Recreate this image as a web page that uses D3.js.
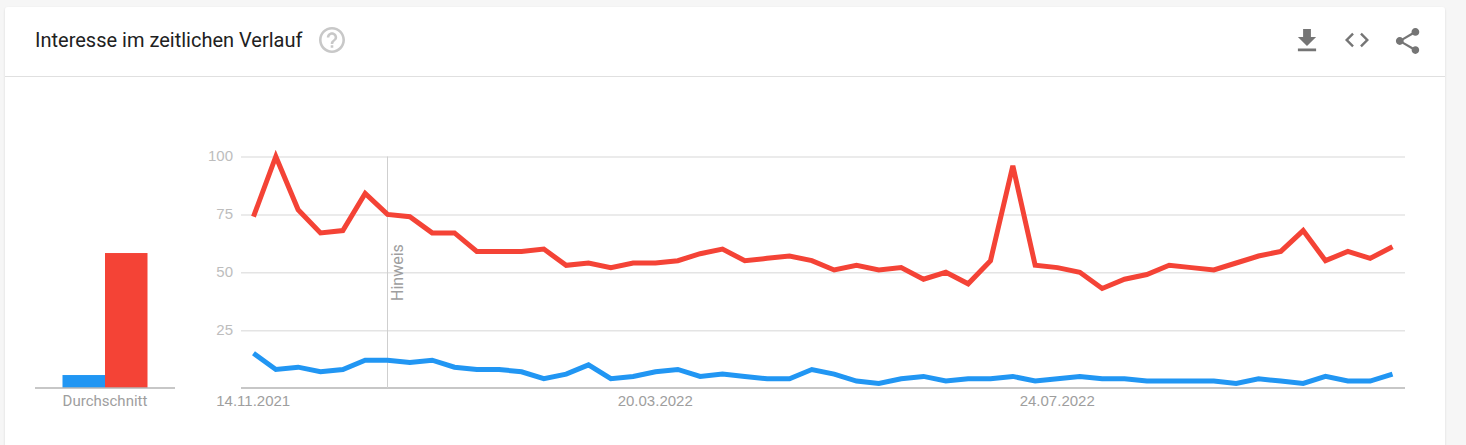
<!DOCTYPE html>
<html lang="de">
<head>
<meta charset="utf-8">
<title>Interesse im zeitlichen Verlauf</title>
<script src="https://cdn.jsdelivr.net/npm/d3@7"></script>
<style>
    html, body { margin: 0; padding: 0; background: #f6f6f6; overflow: hidden; }
    svg { display: block; font-family: Roboto, sans-serif; }
    .tick-label { font-size: 15px; fill: #bdbdbd; }
    .date-label { font-size: 15px; fill: #9e9e9e; }
    .grid-line { stroke: #e4e4e4; stroke-width: 1.5; }
    .base-line { stroke: #b4b4b4; stroke-width: 1.5; }
    .series { fill: none; stroke-width: 5; stroke-linejoin: miter; }
</style>
</head>
<body>
<svg id="chart" width="1466" height="445"></svg>
<script>
const title = 'Interesse im zeitlichen Verlauf';
const seriesColors = ['#2196f3', '#f44336'];
const averages = [5.6, 58.3];
const averageLabel = 'Durchschnitt';
const noteLabel = 'Hinweis';
const noteWeek = 6;

const yTicks = [25, 50, 75, 100];
const dateTickWeeks = [0, 18, 36];
const dateTickLabels = ['14.11.2021', '20.03.2022', '24.07.2022'];

const blueValues = [15, 8, 9, 7, 8, 12, 12, 11, 12, 9, 8, 8, 7, 4, 6, 10, 4, 5, 7, 8, 5, 6, 5, 4, 4, 8,
    6, 3, 2, 4, 5, 3, 4, 4, 5, 3, 4, 5, 4, 4, 3, 3, 3, 3, 2, 4, 3, 2, 5, 3, 3, 6];
const redValues = [74, 100, 77, 67, 68, 84, 75, 74, 67, 67, 59, 59, 59, 60, 53, 54, 52, 54, 54, 55, 58, 60, 55, 56, 57, 55,
    51, 53, 51, 52, 47, 50, 45, 55, 96, 53, 52, 50, 43, 47, 49, 53, 52, 51, 54, 57, 59, 68, 55, 59, 56, 61];

// material icon outlines, 24x24 box
const iconHelp = 'M11 18h2v-2h-2v2zm1-16C6.48 2 2 6.48 2 12s4.48 10 10 10 10-4.48 10-10S17.52 2 12 2zm0 18c-4.41 0-8-3.59-8-8s3.59-8 8-8 8 3.59 8 8-3.59 8-8 8zm0-14c-2.21 0-4 1.79-4 4h2c0-1.1.9-2 2-2s2 .9 2 2c0 2-3 1.75-3 5h2c0-2.25 3-2.5 3-5 0-2.21-1.79-4-4-4z';
const iconDownload = 'M19 9h-4V3H9v6H5l7 7 7-7zM5 18v2h14v-2H5z';
const iconCode = 'M9.4 16.6L4.8 12l4.6-4.6L8 6l-6 6 6 6 1.4-1.4zm5.2 0l4.6-4.6-4.6-4.6L16 6l6 6-6 6-1.4-1.4z';
const iconShare = 'M18 16.08c-.76 0-1.44.3-1.96.77L8.91 12.7c.05-.23.09-.46.09-.7s-.04-.47-.09-.7l7.05-4.11c.54.5 1.25.81 2.04.81 1.66 0 3-1.34 3-3s-1.34-3-3-3-3 1.34-3 3c0 .24.04.47.09.7L8.04 9.81C7.5 9.31 6.79 9 6 9c-1.66 0-3 1.34-3 3s1.34 3 3 3c.79 0 1.5-.31 2.04-.81l7.12 4.16c-.05.21-.08.43-.08.65 0 1.61 1.31 2.92 2.92 2.92 1.61 0 2.92-1.31 2.92-2.92s-1.31-2.92-2.92-2.92z';

const svg = d3.select('#chart');

// card
const defs = svg.append('defs');
const shadow = defs.append('filter').attr('id', 'card-shadow')
    .attr('x', '-2%').attr('y', '-5%').attr('width', '104%').attr('height', '115%');
shadow.append('feDropShadow')
    .attr('dx', 0).attr('dy', 1).attr('stdDeviation', 1.2)
    .attr('flood-color', '#000').attr('flood-opacity', 0.12);

svg.append('rect')
    .attr('x', 5).attr('y', 7)
    .attr('width', 1440).attr('height', 460)
    .attr('rx', 3)
    .attr('fill', '#fff')
    .attr('filter', 'url(#card-shadow)');

svg.append('line')
    .attr('x1', 5).attr('x2', 1445)
    .attr('y1', 76.5).attr('y2', 76.5)
    .attr('stroke', '#e0e0e0');

// header
svg.append('text')
    .attr('x', 35).attr('y', 47)
    .attr('font-size', 20)
    .attr('fill', '#212121')
    .text(title);

const icon = (d, x, y, scale, color) => svg.append('path')
    .attr('d', d)
    .attr('fill', color)
    .attr('transform', `translate(${x}, ${y}) scale(${scale})`);

icon(iconHelp, 316.4, 24.4, 1.3, '#c8c8c8');
icon(iconDownload, 1291.4, 25.2, 1.3, '#757575');
icon(iconCode, 1342.6, 25.6, 1.2, '#757575');
icon(iconShare, 1392, 25.4, 1.3, '#757575');

// scales
const yScale = d3.scaleLinear().domain([0, 100]).range([388, 156.5]);
const xScale = d3.scaleLinear().domain([0, blueValues.length - 1]).range([253.5, 1392.5]);
const barScale = d3.scaleBand().domain([0, 1]).range([62.5, 147.5]);

// y axis, ticks stretched into gridlines
const yAxis = svg.append('g')
    .attr('transform', 'translate(241, 0)')
    .call(d3.axisRight(yScale).tickValues(yTicks).tickSize(1164).tickFormat(d3.format('d')));
yAxis.select('.domain').remove();
yAxis.selectAll('.tick line').attr('class', 'grid-line');
yAxis.selectAll('.tick text')
    .attr('class', 'tick-label')
    .attr('x', -8)
    .attr('dy', '0.26em')
    .attr('text-anchor', 'end');

// x axis
const xAxis = svg.append('g')
    .attr('transform', 'translate(0, 388)')
    .call(d3.axisBottom(xScale).tickValues(dateTickWeeks).tickSize(0)
        .tickFormat((d, i) => dateTickLabels[i]));
xAxis.select('.domain').remove();
xAxis.selectAll('.tick text')
    .attr('class', 'date-label')
    .attr('x', -0.8)
    .attr('y', 17.5)
    .attr('dy', 0);

svg.append('line').attr('class', 'base-line')
    .attr('x1', 241).attr('x2', 1405)
    .attr('y1', yScale(0)).attr('y2', yScale(0));

// note marker
svg.append('line')
    .attr('x1', xScale(noteWeek)).attr('x2', xScale(noteWeek))
    .attr('y1', yScale(100)).attr('y2', yScale(0))
    .attr('stroke', '#cfcfcf');

svg.append('text')
    .attr('transform', `translate(${xScale(noteWeek) + 15.5}, 301) rotate(-90)`)
    .attr('font-size', 16)
    .attr('fill', '#9e9e9e')
    .text(noteLabel);

// lines
const line = d3.line()
    .x((d, i) => xScale(i))
    .y(d => yScale(d));

svg.selectAll('.series')
    .data([blueValues, redValues])
    .join('path')
    .attr('class', 'series')
    .attr('stroke', (d, i) => seriesColors[i])
    .attr('d', line);

// average bars
svg.selectAll('.average')
    .data(averages)
    .join('rect')
    .attr('class', 'average')
    .attr('x', (d, i) => barScale(i))
    .attr('y', d => yScale(d))
    .attr('width', barScale.bandwidth())
    .attr('height', d => yScale(0) - yScale(d))
    .attr('fill', (d, i) => seriesColors[i]);

svg.append('line').attr('class', 'base-line')
    .attr('x1', 35).attr('x2', 175)
    .attr('y1', yScale(0)).attr('y2', yScale(0));

svg.append('text')
    .attr('class', 'date-label')
    .attr('x', 105).attr('y', 405.5)
    .attr('text-anchor', 'middle')
    .text(averageLabel);
</script>
</body>
</html>
